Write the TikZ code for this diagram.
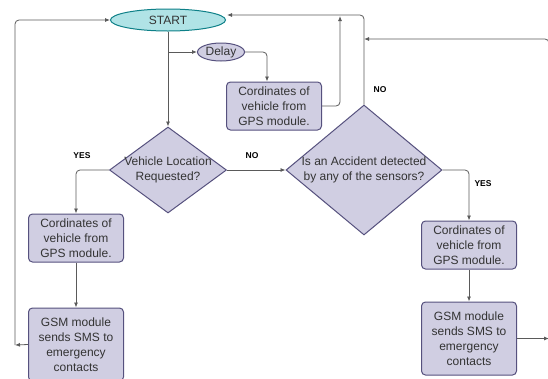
\documentclass[tikz,border=0pt]{standalone}
\usepackage{fontspec}
\setmainfont{Liberation Sans}
\usetikzlibrary{shapes.geometric,arrows.meta}

\definecolor{boxfill}{HTML}{D0CEE2}
\definecolor{boxline}{HTML}{56517E}
\definecolor{startfill}{HTML}{B0E3E6}
\definecolor{startline}{HTML}{0E8088}
\definecolor{wire}{HTML}{5A5A5A}
\definecolor{txt}{HTML}{333333}

\tikzset{
  stepbox/.style={rectangle, rounded corners=4pt, draw=boxline, line width=1pt,
    fill=boxfill, minimum width=95pt, minimum height=48pt, inner sep=0pt,
    align=center, text=txt, font=\fontsize{12}{15}\selectfont},
  startnode/.style={ellipse, draw=startline, line width=1pt, fill=startfill,
    minimum width=115pt, minimum height=22pt, inner sep=0pt, text=txt,
    font=\fontsize{12}{15}\selectfont},
  delaynode/.style={ellipse, draw=boxline, line width=1pt, fill=boxfill,
    minimum width=47pt, minimum height=18pt, inner sep=0pt, text=txt,
    font=\fontsize{12}{15}\selectfont},
  decision/.style={diamond, draw=boxline, line width=1pt, fill=boxfill, inner sep=0pt},
  dtext/.style={align=center, text=txt, font=\fontsize{12}{15}\selectfont},
  answer/.style={font=\bfseries\fontsize{8.5}{10}\selectfont, text=black},
  arr/.style={draw=wire, line width=0.8pt, -{Latex[length=5pt,width=4pt]}},
}

\begin{document}
\begin{tikzpicture}[x=1pt, y=-1pt]
    \useasboundingbox (0,0) rectangle (548,378);

    % Start and delay
    \node[startnode] (start) at (168,20) {START};
    \node[delaynode] (dly) at (221,52) {Delay};
    \node[stepbox] (gps0) at (274,106) {Cordinates of\\vehicle from\\GPS module.};

    % Decisions
    \node[decision, minimum width=117pt, minimum height=86pt] (loc) at (168,170) {};
    \node[dtext] at (loc) {Vehicle Location\\Requested?};
    \node[decision, minimum width=156pt, minimum height=130pt] (acc) at (364,170) {};
    \node[dtext] at (acc) {Is an Accident detected\\by any of the sensors?};

    % Left branch
    \node[stepbox] (gps1) at (76,238) {Cordinates of\\vehicle from\\GPS module.};
    \node[stepbox, minimum height=73pt] (gsm1) at (76,344.5) {GSM module\\sends SMS to\\emergency\\contacts};

    % Right branch
    \node[stepbox] (gps2) at (469,245) {Cordinates of\\vehicle from\\GPS module.};
    \node[stepbox, minimum height=73pt] (gsm2) at (469,338.5) {GSM module\\sends SMS to\\emergency\\contacts};

    % Answer labels
    \node[answer] at (82,156) {YES};
    \node[answer] at (252,156) {NO};
    \node[answer] at (380,90) {NO};
    \node[answer] at (483,184) {YES};

    % Free ends of connectors
    \coordinate (split) at (168,52);
    \coordinate (join0) at (340,16);
    \coordinate (join1) at (364,39);
    \coordinate (leftc) at (15,345);
    \coordinate (rightc) at (549,338.5);

    % Connectors
    \draw[arr] (start.south) -- (loc.north);
    \draw[arr] (split) -- (dly.west);
    \draw[arr, rounded corners=4pt] (dly.east) -| ([xshift=-7pt]gps0.north);
    \draw[arr, rounded corners=4pt] (gps0.east) -| (join0);
    \draw[arr, rounded corners=4pt] (acc.north) |- ([xshift=1pt,yshift=5pt]start.east);
    \draw[arr, rounded corners=4pt] (rightc) |- (join1);
    \draw[arr, rounded corners=4pt] (loc.west) -| (gps1.north);
    \draw[arr] (loc.east) -- (acc.west);
    \draw[arr] (gps1.south) -- (gsm1.north);
    \draw[arr, rounded corners=4pt] (acc.east) -| (gps2.north);
    \draw[arr] (gps2.south) -- (gsm2.north);
    \draw[arr] (gsm2.east) -- (rightc);
    \draw[arr] (gsm1.west) -- (leftc);
    \draw[arr, rounded corners=4pt] (leftc) |- (start.west);
  \end{tikzpicture}
\end{document}
